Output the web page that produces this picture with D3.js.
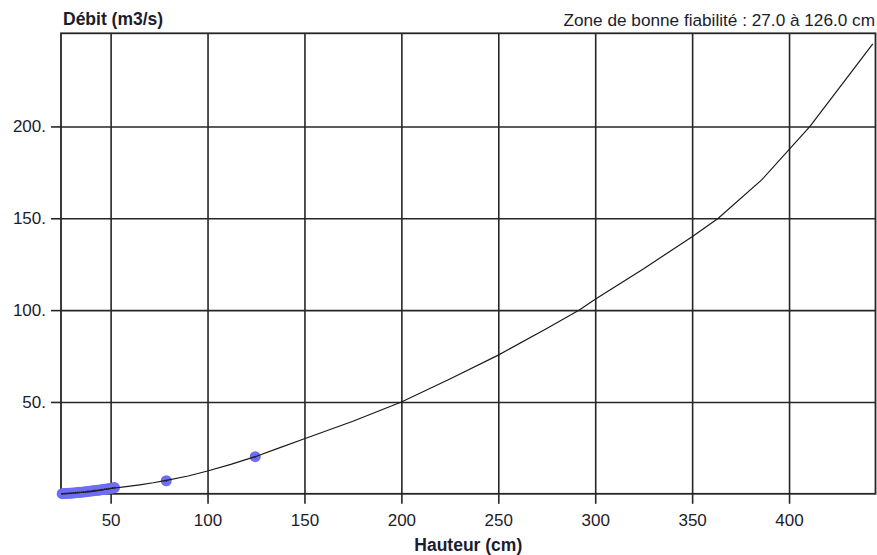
<!DOCTYPE html>
<html><head><meta charset="utf-8">
<script src="https://cdn.jsdelivr.net/npm/d3@7"></script>
<style>body{margin:0;background:#fff}svg{display:block}text{font-family:"Liberation Sans",Arial,sans-serif;fill:#1c1c2c}</style>
</head><body>
<svg id="c" width="877" height="555"></svg>
<script>
// Rating curve (Hauteur cm -> Débit m3/s)
const curveH = [24.5, 27, 30, 35, 40, 45, 50, 57, 65, 72, 78.7, 90, 100, 112, 124.6, 137, 150, 175, 200, 225, 250, 275, 291.8, 300, 325, 350, 363.5, 386, 410.8, 443.2];
const curveQ = [0, 0.1, 0.3, 0.7, 1.2, 2.0, 2.9, 3.8, 4.9, 6.0, 7.3, 9.7, 12.4, 16.0, 20.2, 25.0, 30, 39.5, 50, 62.5, 75.5, 90, 100, 105.9, 122.5, 140, 150, 171, 200, 245];
// Gaugings
const pointH = [25, 26, 27, 28, 29, 30, 31, 32, 33, 34, 35, 36, 37, 38, 39, 40, 41, 42, 43, 44, 45, 46, 47, 48, 49, 50, 51, 52, 78.7, 124.6];
const pointQ = [0.05, 0.1, 0.2, 0.25, 0.3, 0.4, 0.5, 0.6, 0.7, 0.8, 0.9, 1.0, 1.1, 1.3, 1.4, 1.5, 1.7, 1.8, 1.9, 2.0, 2.2, 2.3, 2.5, 2.6, 2.8, 3.0, 3.2, 3.4, 7.1, 20.2];
const xTicks = [50, 100, 150, 200, 250, 300, 350, 400];
const yTicks = [50, 100, 150, 200];
const yTitle = "Débit (m3/s)";
const xTitle = "Hauteur (cm)";
const zoneText = "Zone de bonne fiabilité : 27.0 à 126.0 cm";

const L = 61, T = 33.3, R = 875.5, B = 493.8;
const svg = d3.select("#c");
const x = d3.scaleLinear().domain([24.4, 444.6]).range([L, R]);
const y = d3.scaleLinear().domain([0, 250.7]).range([B, T]);
const gridCol = "#262626";

// Grid
const xa = svg.append("g").attr("transform", `translate(0,${B})`)
  .call(d3.axisBottom(x).tickValues(xTicks).tickSize(-(B - T)).tickSizeOuter(0).tickFormat(""));
xa.select(".domain").remove();
xa.selectAll("line").attr("stroke", gridCol).attr("stroke-width", 1.6);
const xt = svg.append("g").attr("transform", `translate(0,${B})`)
  .call(d3.axisBottom(x).tickValues(xTicks).tickSize(10).tickSizeOuter(0).tickPadding(10).tickFormat(d3.format("d")));
xt.select(".domain").remove();
xt.selectAll("line").attr("stroke", gridCol).attr("stroke-width", 1.6);
xt.selectAll("text").attr("font-size", 17).attr("font-family", "Liberation Sans, Arial").attr("fill", "#1c1c2c");

const ya = svg.append("g").attr("transform", `translate(${L},0)`)
  .call(d3.axisLeft(y).tickValues(yTicks).tickSize(-(R - L)).tickSizeOuter(0).tickFormat(""));
ya.select(".domain").remove();
ya.selectAll("line").attr("stroke", gridCol).attr("stroke-width", 1.6);
const yt = svg.append("g").attr("transform", `translate(${L},0)`)
  .call(d3.axisLeft(y).tickValues(yTicks).tickSize(10).tickSizeOuter(0).tickPadding(5).tickFormat(d => d + "."));
yt.select(".domain").remove();
yt.selectAll("line").attr("stroke", gridCol).attr("stroke-width", 1.6);
yt.selectAll("text").attr("font-size", 17).attr("font-family", "Liberation Sans, Arial").attr("fill", "#1c1c2c");

// Frame
svg.append("rect").attr("x", L).attr("y", T).attr("width", R - L).attr("height", B - T)
  .attr("fill", "none").attr("stroke", gridCol).attr("stroke-width", 1.8);

// Points
svg.append("g").selectAll("circle").data(pointH.map((h, i) => [h, pointQ[i]])).join("circle")
  .attr("cx", d => x(d[0])).attr("cy", d => y(d[1])).attr("r", 5.5).attr("fill", "#6e6ef4");

// Curve
const data = curveH.map((h, i) => [h, curveQ[i]]);
svg.append("path").datum(data)
  .attr("d", d3.line().x(d => x(d[0])).y(d => y(d[1])).curve(d3.curveLinear))
  .attr("fill", "none").attr("stroke", "#1a1a1a").attr("stroke-width", 1.2);

// Centre marks on points
svg.append("g").selectAll("circle").data(pointH.map((h, i) => [h, pointQ[i]])).join("circle")
  .attr("cx", d => x(d[0])).attr("cy", d => y(d[1])).attr("r", 0.9).attr("fill", "#222");

// Titles
svg.append("text").attr("x", 63).attr("y", 25).attr("font-size", 17.5).attr("font-weight", "bold").text(yTitle);
svg.append("text").attr("x", 875).attr("y", 26).attr("font-size", 17.2).attr("text-anchor", "end").text(zoneText);
svg.append("text").attr("x", (L + R) / 2).attr("y", 551).attr("font-size", 17.5).attr("font-weight", "bold").attr("text-anchor", "middle").text(xTitle);
</script>
</body></html>
